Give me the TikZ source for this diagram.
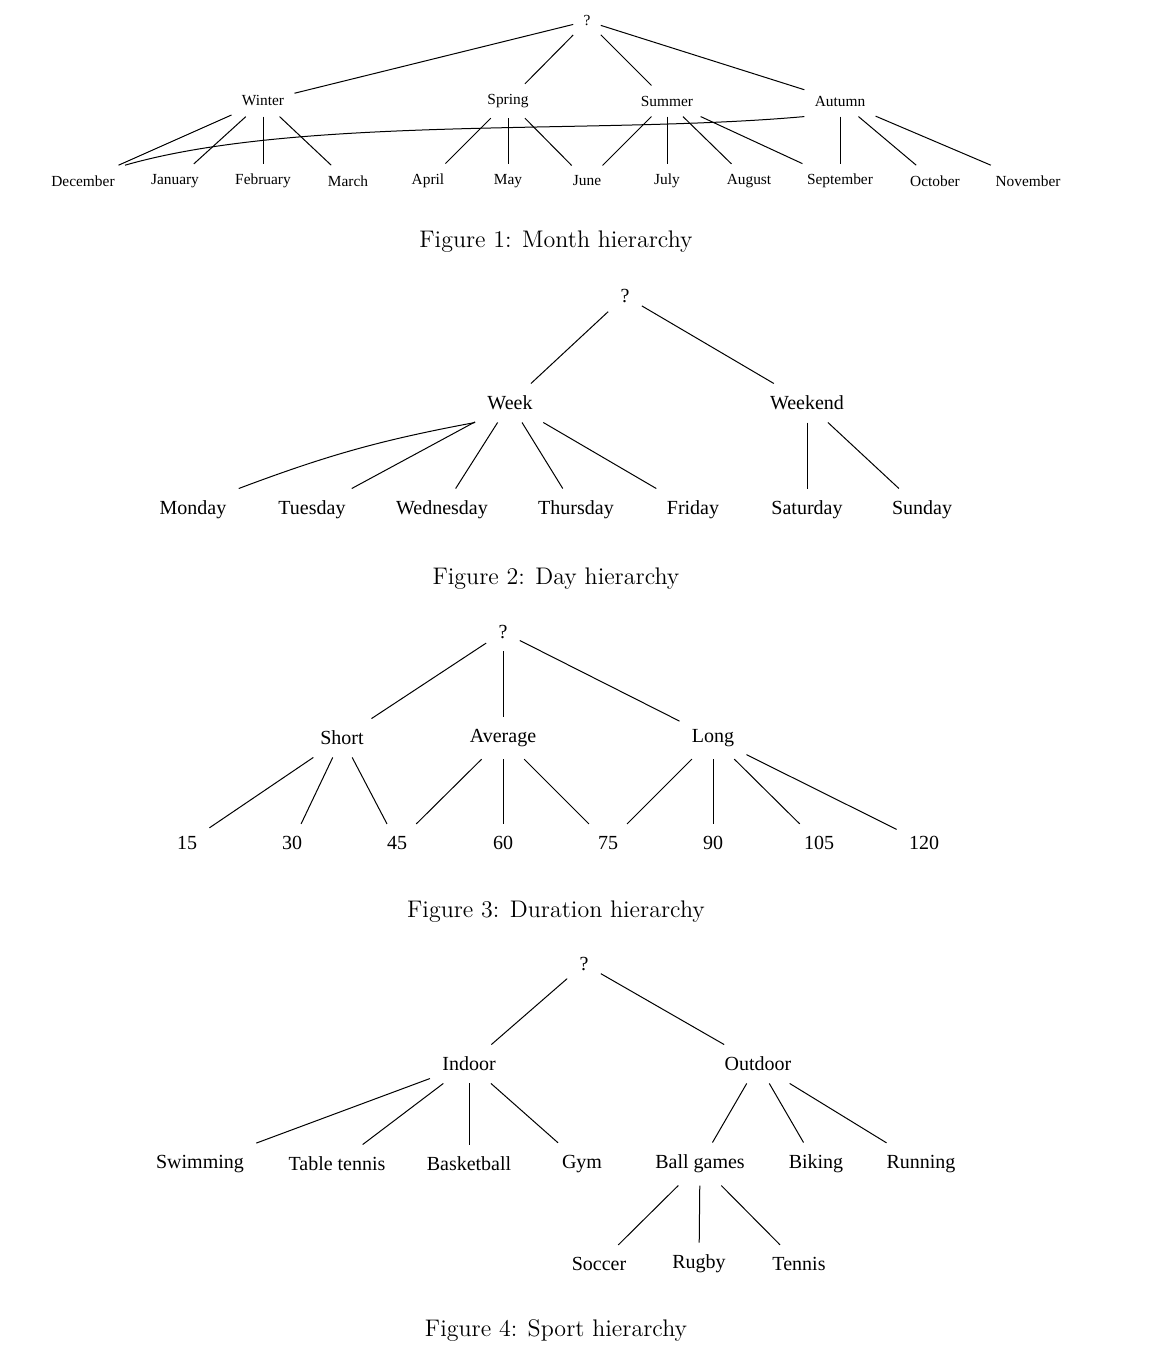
\documentclass[tikz,border=0pt]{standalone}
\usepackage{fontspec}
\newfontfamily\tms{Liberation Serif}
\begin{document}
\begin{tikzpicture}[x=0.5pt,y=-0.5pt,
  s/.style={font=\tms\fontsize{7.7}{9}\selectfont,inner sep=5pt},
  b/.style={font=\tms\fontsize{10}{12}\selectfont,inner sep=6pt},
  figcap/.style={font=\fontsize{12}{14}\selectfont},
  e/.style={line width=0.5pt}]
\useasboundingbox (0,0) rectangle (1158,1362);
% Figure 1
\node[s] (q1) at (587,21) {?};
\node[s] (win) at (263,101) {Winter};
\node[s] (spr) at (508,101) {Spring};
\node[s] (sum) at (667,101) {Summer};
\node[s] (aut) at (840,101) {Autumn};
\foreach \n/\t/\x in {dec/December/83,jan/January/175,feb/February/263,mar/March/348,apr/April/428,may/May/508,jun/June/587,jul/July/667,aug/August/749,sep/September/840,oct/October/935,nov/November/1028}
  \node[s] (\n) at (\x,181) {\t};
\foreach \a/\b in {q1/win,q1/spr,q1/sum,q1/aut,win/dec,win/jan,win/feb,win/mar,spr/apr,spr/may,spr/jun,sum/jun,sum/jul,sum/aug,sum/sep,aut/sep,aut/oct,aut/nov}
  \draw[e] (\a) -- (\b);
\draw[e] (aut.south west) .. controls (600,135) and (300,115) .. (dec.north east);
\node[figcap] (c1) at (556,242) {Figure 1: Month hierarchy};
% Figure 2
\node[b] (q2) at (625,296) {?};
\node[b] (wk) at (510,403) {Week};
\node[b] (we) at (807,403) {Weekend};
\foreach \n/\t/\x in {mon/Monday/193,tue/Tuesday/312,wed/Wednesday/442,thu/Thursday/576,fri/Friday/693,sat/Saturday/807,sun/Sunday/922}
  \node[b] (\n) at (\x,510) {\t};
\foreach \a/\b in {q2/wk,q2/we,wk/tue,wk/wed,wk/thu,wk/fri,we/sat,we/sun}
  \draw[e] (\a) -- (\b);
\draw[e] (wk.south west) to[bend right=5] (mon.north east);
\node[figcap] (c2) at (556,579) {Figure 2: Day hierarchy};
% Figure 3
\node[b] (q3) at (503,632) {?};
\node[b] (sh) at (342,738) {Short};
\node[b] (av) at (503,738) {Average};
\node[b] (lo) at (713,738) {Long};
\foreach \n/\x in {15/187,30/292,45/397,60/503,75/608,90/713,105/819,120/924}
  \node[b] (d\n) at (\x,843) {\n};
\foreach \a/\b in {q3/sh,q3/av,q3/lo,sh/d15,sh/d30,sh/d45,av/d45,av/d60,av/d75,lo/d75,lo/d90,lo/d105,lo/d120}
  \draw[e] (\a) -- (\b);
\node[figcap] (c3) at (556,912) {Figure 3: Duration hierarchy};
% Figure 4
\node[b] (q4) at (584,964) {?};
\node[b] (ind) at (469,1064) {Indoor};
\node[b] (out) at (758,1064) {Outdoor};
\foreach \n/\t/\x in {swi/Swimming/200,tt/Table tennis/337,bb/Basketball/469,gym/Gym/582,bg/Ball games/700,bik/Biking/816,run/Running/921}
  \node[b] (\n) at (\x,1164) {\t};
\foreach \n/\t/\x in {soc/Soccer/599,rug/Rugby/699,ten/Tennis/799}
  \node[b] (\n) at (\x,1264) {\t};
\foreach \a/\b in {q4/ind,q4/out,ind/swi,ind/tt,ind/bb,ind/gym,out/bg,out/bik,out/run,bg/soc,bg/rug,bg/ten}
  \draw[e] (\a) -- (\b);
\node[figcap] (c4) at (556,1330) {Figure 4: Sport hierarchy};
\end{tikzpicture}
\end{document}
